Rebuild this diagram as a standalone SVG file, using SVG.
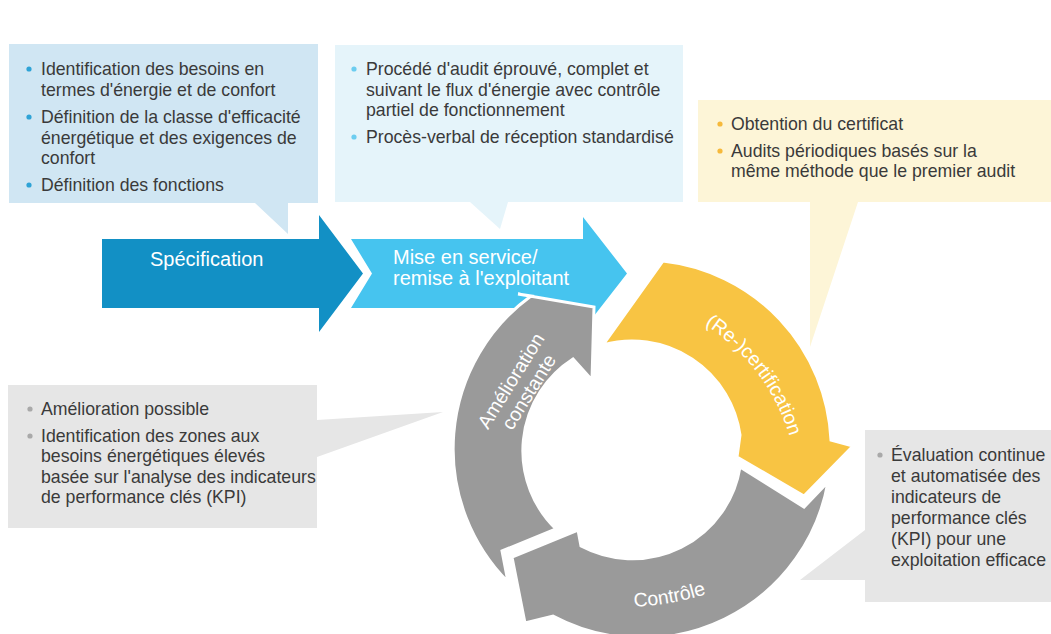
<svg xmlns="http://www.w3.org/2000/svg" width="1051" height="634" viewBox="0 0 1051 634">
<style>
.t{font-family:"Liberation Sans",Arial,sans-serif;font-size:17.7px;fill:#3a3a3a}
.w{font-family:"Liberation Sans",Arial,sans-serif;font-size:20px;fill:#ffffff}
.rt{font-family:"Liberation Sans",Arial,sans-serif;font-size:19.5px;fill:#ffffff}
.ring{stroke:#ffffff;stroke-width:3;stroke-linejoin:miter}
.bb{fill:#2ea3d6}.bl{fill:#6ccdf0}.by{fill:#f6b93b}.bg{fill:#a9a9a9}
</style>
<defs>
<path id="pRe" d="M 697,320 A 200 200 0 0 1 792,445"/>
<path id="pCo" d="M 582,603 A 260 260 0 0 0 754,573"/>
</defs>
<rect width="1051" height="634" fill="#ffffff"/>

<g id="callout-specification">
<path d="M9,44 H318 V203 H288 V234 L255,203 H9 Z" fill="#d0e6f3"/>
<circle class="bb" cx="29" cy="69" r="2.6"/>
<text class="t" x="41" y="75">Identification des besoins en</text>
<text class="t" x="41" y="96">termes d'énergie et de confort</text>
<circle class="bb" cx="29" cy="117" r="2.6"/>
<text class="t" x="41" y="123">Définition de la classe d'efficacité</text>
<text class="t" x="41" y="144">énergétique et des exigences de</text>
<text class="t" x="41" y="164">confort</text>
<circle class="bb" cx="29" cy="185" r="2.6"/>
<text class="t" x="41" y="191">Définition des fonctions</text>
</g>

<g id="callout-miseenservice">
<path d="M335,45 H683 V202 H508 L500,229 L470,202 H335 Z" fill="#e5f4fa"/>
<circle class="bl" cx="354" cy="69" r="2.6"/>
<text class="t" x="366" y="75">Procédé d'audit éprouvé, complet et</text>
<text class="t" x="366" y="96">suivant le flux d'énergie avec contrôle</text>
<text class="t" x="366" y="116">partiel de fonctionnement</text>
<circle class="bl" cx="354" cy="137" r="2.6"/>
<text class="t" x="366" y="143">Procès-verbal de réception standardisé</text>
</g>

<g id="callout-certification">
<path d="M698,100 H1051 V202 H858 L810,347 V202 H698 Z" fill="#fdf5d7"/>
<circle class="by" cx="720" cy="124" r="2.6"/>
<text class="t" x="731" y="130">Obtention du certificat</text>
<circle class="by" cx="720" cy="151" r="2.6"/>
<text class="t" x="731" y="157">Audits périodiques basés sur la</text>
<text class="t" x="731" y="177">même méthode que le premier audit</text>
</g>

<g id="callout-amelioration">
<path d="M8,385 H317 V420 L443,412 L317,457 V528 H8 Z" fill="#e6e6e6"/>
<circle class="bg" cx="30" cy="409" r="2.6"/>
<text class="t" x="41" y="415">Amélioration possible</text>
<circle class="bg" cx="30" cy="436" r="2.6"/>
<text class="t" x="41" y="442">Identification des zones aux</text>
<text class="t" x="41" y="462">besoins énergétiques élevés</text>
<text class="t" x="41" y="483">basée sur l'analyse des indicateurs</text>
<text class="t" x="41" y="503">de performance clés (KPI)</text>
</g>

<g id="callout-controle">
<path d="M865,430 H1051 V602 H865 V580 H800 L865,530 Z" fill="#e6e6e6"/>
<circle class="bg" cx="880" cy="455" r="2.6"/>
<text class="t" x="891" y="461">Évaluation continue</text>
<text class="t" x="891" y="482">et automatisée des</text>
<text class="t" x="891" y="503">indicateurs de</text>
<text class="t" x="891" y="524">performance clés</text>
<text class="t" x="891" y="545">(KPI) pour une</text>
<text class="t" x="891" y="566">exploitation efficace</text>
</g>

<g id="connectors">
<g id="arrow-specification">
<path d="M102,239 H319 V215 L363,273.5 L319,332 V308 H102 Z" fill="#1290c5"/>
<text class="w" x="150" y="266">Spécification</text>
</g>
<g id="arrow-miseenservice">
<path d="M351,239 H583 V217 L627,273.5 L583,330 V308 H351 L372,273.5 Z" fill="#46c4ef"/>
<text class="w" x="393" y="264">Mise en service/</text>
<text class="w" x="393" y="285">remise à l'exploitant</text>
</g>
<g id="arrow-amelioration">
<path class="ring" d="M556,529 L502,551 L508,582 A189 189 0 0 1 531,296 L518,294 L594,307 L592,380 L573,359 A109 109 0 0 0 556,529 Z" fill="#9a9a9a"/>
<g transform="translate(516.6,384.2) rotate(-58)">
<text class="rt" x="0" y="0" text-anchor="middle">Amélioration</text>
<text class="rt" x="0" y="21" text-anchor="middle">constante</text>
</g>
</g>
<g id="arrow-certification">
<path class="ring" d="M603,345 L663,261 A189 189 0 0 1 831,440 L853,446 L804,496 L737,457 L740,435 A109 109 0 0 0 603,345 Z" fill="#f8c443"/>
<text class="rt"><textPath href="#pRe" startOffset="50%" text-anchor="middle">(Re-)certification</textPath></text>
</g>
<g id="arrow-controle">
<path class="ring" d="M740,467 L804,507 L828,482 A189 189 0 0 1 553,616 L525,623 L512,557 L578,530 L581,546 A109 109 0 0 0 740,467 Z" fill="#9a9a9a"/>
<text class="rt"><textPath href="#pCo" startOffset="50%" text-anchor="middle">Contrôle</textPath></text>
</g>
</g>
</svg>
